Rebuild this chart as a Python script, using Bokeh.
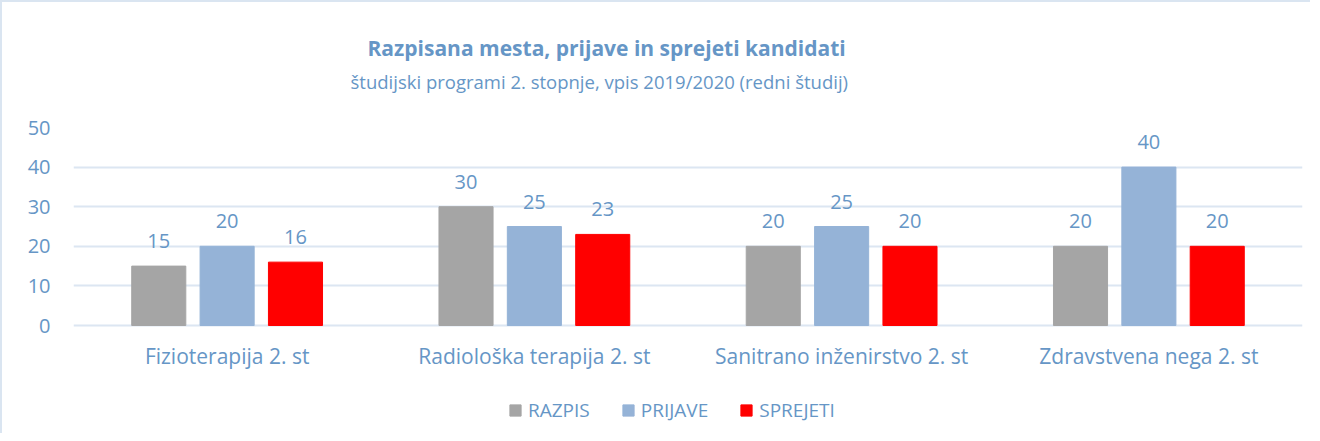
from bokeh.plotting import figure
from bokeh.models import (ColumnDataSource, FactorRange, Legend, LegendItem,
                          LabelSet, Title, FixedTicker)
from bokeh.core.properties import value
from bokeh.transform import dodge
from bokeh.embed import file_html
from bokeh.resources import INLINE

categories = ["Fizioterapija 2. st", "Radiološka terapija 2. st",
              "Sanitrano inženirstvo 2. st", "Zdravstvena nega 2. st"]
razpis = [15, 30, 20, 20]
prijave = [20, 25, 25, 40]
sprejeti = [16, 23, 20, 20]
series_names = ["RAZPIS", "PRIJAVE", "SPREJETI"]
y_ticks = [0, 10, 20, 30, 40, 50]
title_text = "Razpisana mesta, prijave in sprejeti kandidati"
subtitle_text = "študijski programi 2. stopnje, vpis 2019/2020 (redni študij)"

TXT = "#6696c6"
GRID = "#dce6f2"
FONT = "Open Sans"
colors = ["#a5a5a5", "#95b3d7", "#ff0000"]

src = ColumnDataSource(data=dict(
    cat=categories,
    zero=[0] * len(categories),
    razpis=razpis, prijave=prijave, sprejeti=sprejeti,
    razpis_t=[str(v) for v in razpis],
    prijave_t=[str(v) for v in prijave],
    sprejeti_t=[str(v) for v in sprejeti],
))

# plot area: value axis 0..50 spans 198 px; the area continues 108 px below 0
# to hold the category labels and the legend
ymax = max(y_ticks)
ymin = -ymax * 108 / 198

p = figure(x_range=FactorRange(factors=categories, range_padding=0),
           y_range=(ymin, ymax), width=1308, height=431,
           frame_width=1229, frame_height=306,
           output_backend="svg", toolbar_location=None,
           min_border_left=71, min_border_right=8,
           min_border_top=125, min_border_bottom=0)
p.styles = {"border-left": "2px solid #dae5f1", "border-top": "2px solid #dae5f1"}
p.outline_line_color = None
p.background_fill_color = "white"
p.border_fill_color = "white"

off = 0.2225
bw = 0.176
fields = ["razpis", "prijave", "sprejeti"]
offsets = [-off, 0.0, off]
renderers = []
for f, o, c in zip(fields, offsets, colors):
    r = p.vbar(x=dodge("cat", o, range=p.x_range), top=f, bottom=0, width=bw,
               source=src, fill_color=c, line_color=c)
    renderers.append(r)
    lbl = LabelSet(x=dodge("cat", o, range=p.x_range), y=f, text=f + "_t",
                   source=src, text_align="center", text_baseline="alphabetic",
                   y_offset=18, text_color=TXT, text_font=value(FONT),
                   text_font_size="20px")
    p.add_layout(lbl)

# category labels under the value 0 line
cat_labels = LabelSet(x="cat", y="zero", text="cat", source=src,
                      text_align="center", text_baseline="middle",
                      y_offset=-30, text_color=TXT, text_font=value(FONT),
                      text_font_size="21px")
p.add_layout(cat_labels)

# axes
p.yaxis.ticker = FixedTicker(ticks=y_ticks)
p.yaxis.axis_line_color = None
p.yaxis.major_tick_line_color = None
p.yaxis.minor_tick_line_color = None
p.yaxis.major_tick_out = 0
p.yaxis.major_label_standoff = 23
p.yaxis.major_label_text_color = TXT
p.yaxis.major_label_text_font = FONT
p.yaxis.major_label_text_font_size = "20px"

p.xaxis.visible = False
p.xgrid.grid_line_color = None
p.ygrid.grid_line_color = GRID
p.ygrid.grid_line_width = 2

# titles (first added is closest to plot); a blank spacer keeps the gap
p.add_layout(Title(text=" ", text_font=FONT, text_font_size="10px",
                   standoff=16), "above")
p.add_layout(Title(text=subtitle_text, align="left", offset=277,
                   text_font=FONT, text_font_size="18.5px",
                   text_font_style="normal", text_color=TXT, standoff=4), "above")
p.add_layout(Title(text=title_text, align="left", offset=294,
                   text_font=FONT, text_font_size="21px",
                   text_font_style="bold", text_color=TXT, standoff=6), "above")

legend = Legend(items=[LegendItem(label=n, renderers=[r])
                       for n, r in zip(series_names, renderers)],
                orientation="horizontal", location=(435, 10),
                border_line_color=None, background_fill_alpha=0,
                glyph_width=14, glyph_height=14, label_standoff=6, spacing=31,
                label_text_color=TXT, label_text_font=FONT,
                label_text_font_size="19px", padding=0, margin=0)
p.add_layout(legend, "center")

open("out.html", "w").write(file_html(p, INLINE))
